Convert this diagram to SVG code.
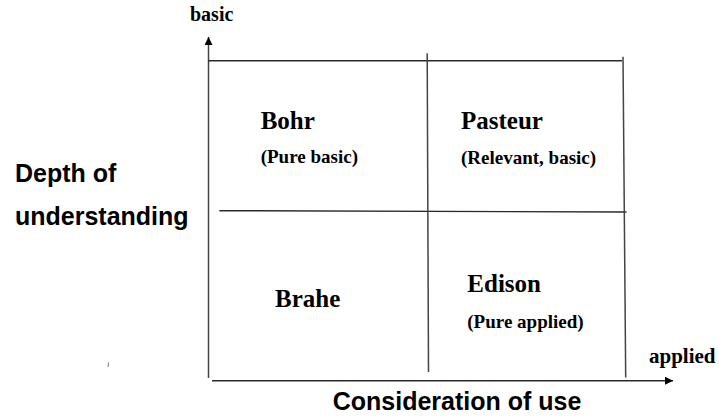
<svg xmlns="http://www.w3.org/2000/svg" width="719" height="417" viewBox="0 0 719 417">
  <defs>
    <style>
      .ln { stroke: #2a2a2a; stroke-width: 1.4; fill: none; }
      .vl { stroke: #444; stroke-width: 1.5; fill: none; }
      .ser { font-family: "Liberation Serif", "Times New Roman", serif; font-weight: bold; fill: #000; }
      .big { font-size: 25px; }
      .sub { font-size: 19px; }
      .sans { font-family: "Liberation Sans", Arial, sans-serif; font-weight: bold; font-size: 25px; fill: #000; }
    </style>
    <marker id="ah" markerWidth="10" markerHeight="10" refX="8" refY="4" orient="auto" markerUnits="userSpaceOnUse">
      <path d="M0,0 L8,4 L0,8 Z" fill="#000"/>
    </marker>
  </defs>
  <rect width="719" height="417" fill="#fff"/>

  <g id="connectors">
    <line id="y-axis" class="vl" x1="208.5" y1="378" x2="208.5" y2="37" marker-end="url(#ah)"/>
    <line id="x-axis" class="ln" x1="212" y1="380.7" x2="673" y2="380.7" marker-end="url(#ah)"/>
  </g>

  <g id="grid">
    <line class="ln" x1="208" y1="60.7" x2="622" y2="60.7"/>
    <line class="ln" x1="219.3" y1="210.7" x2="626.5" y2="212"/>
    <line class="vl" x1="427.2" y1="53.3" x2="428.5" y2="372"/>
    <line class="vl" x1="623" y1="56.7" x2="625.7" y2="377.5"/>
  </g>

  <g id="axis-labels">
    <text id="label-basic" class="ser" x="190" y="21" font-size="20">basic</text>
    <text id="label-applied" class="ser" x="649" y="363" font-size="21">applied</text>
    <text class="sans" x="15" y="182">Depth of</text>
    <text class="sans" x="15" y="225">understanding</text>
    <text class="sans" x="332.7" y="410">Consideration of use</text>
  </g>

  <g id="bohr">
    <text class="ser big" x="260.7" y="128.5">Bohr</text>
    <text class="ser sub" x="260.7" y="162.7">(Pure basic)</text>
  </g>
  <g id="pasteur">
    <text class="ser big" x="461" y="129.3">Pasteur</text>
    <text class="ser sub" x="461" y="164">(Relevant, basic)</text>
  </g>
  <g id="brahe">
    <text class="ser big" x="275" y="306.7">Brahe</text>
  </g>
  <g id="edison">
    <text class="ser big" x="467.3" y="291.7">Edison</text>
    <text class="ser sub" x="467.3" y="328.3">(Pure applied)</text>
  </g>

  <line id="stray-mark" x1="108.6" y1="362.5" x2="108" y2="367" stroke="#777" stroke-width="1"/>
</svg>
